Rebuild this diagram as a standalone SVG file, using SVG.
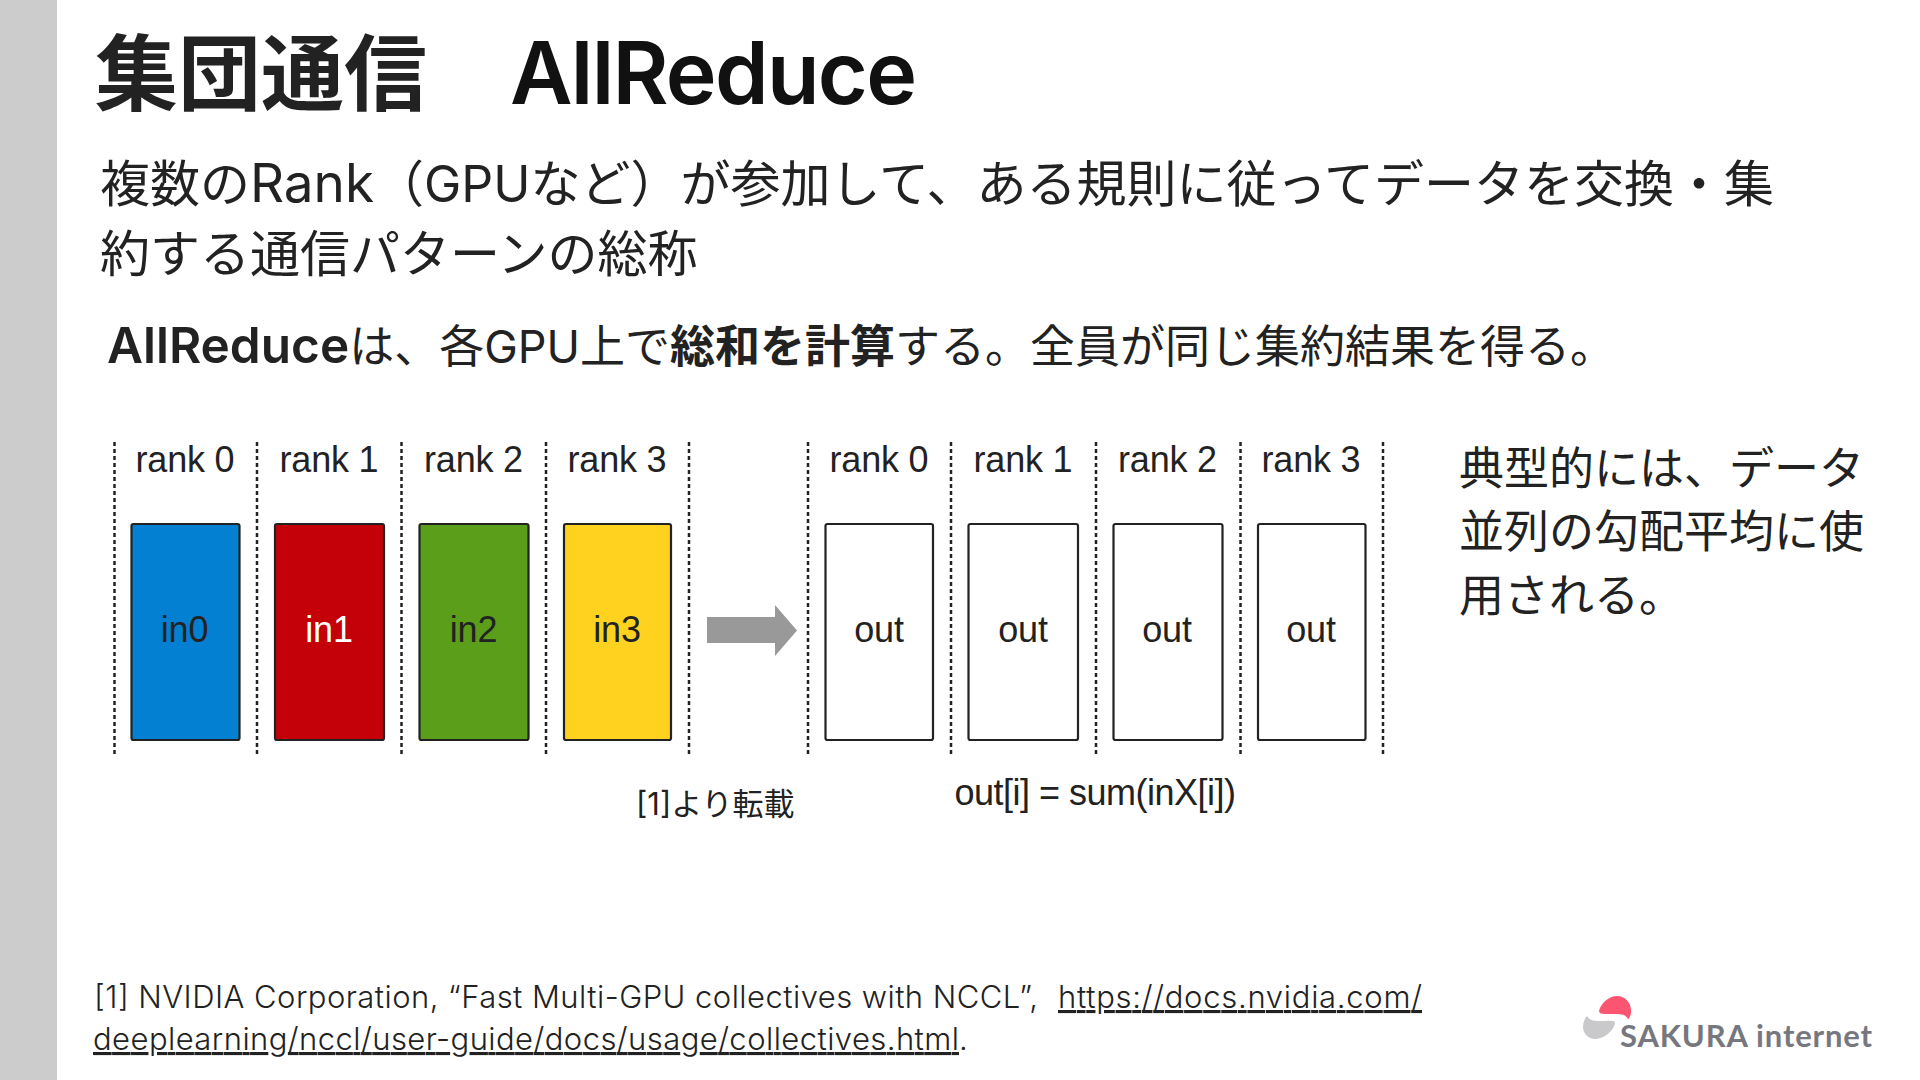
<svg xmlns="http://www.w3.org/2000/svg" width="1920" height="1080" viewBox="0 0 1920 1080">
<style>
text{font-family:"Inter","Noto Sans CJK JP","Noto Sans",sans-serif;fill:#222}
.d{font-family:"Liberation Sans",sans-serif;font-size:36px;fill:#222;text-anchor:middle;letter-spacing:-.2px}
.box{stroke:#222;stroke-width:2.200}
.dash{stroke:#222;stroke-width:2.500;stroke-dasharray:4 3;fill:none}
</style>
<rect width="1920" height="1080" fill="#fff"/>
<rect id="sidebar" width="57" height="1080" fill="#ccc"/>
<g id="title"><text x="95" y="104" font-size="83" font-weight="700" fill="#111">集団通信</text><text x="510" y="104" font-size="86" font-weight="600" letter-spacing="-1.700" style="fill:#111">AllReduce</text></g>
<g id="body">
<text x="100" y="202" font-size="50">複数の<tspan font-size="53">Rank</tspan>（GPUなど）が参加して、ある規則に従ってデータを交換・集</text>
<text x="100" y="272" font-size="50">約する通信パターンの総称</text>
<text x="107" y="363" font-size="45"><tspan font-weight="600" font-size="49.500">AllReduce</tspan>は、各GPU上で<tspan font-weight="700">総和を計算</tspan>する。全員が同じ集約結果を得る。</text>
<text x="1459" y="485" font-size="45">典型的には、データ</text>
<text x="1459" y="548" font-size="45">並列の勾配平均に使</text>
<text x="1459" y="612" font-size="45">用される。</text>
</g>
<g id="connectors">
<path class="dash" d="M114.500 442V755M257 442V755M401.500 442V755M546 442V755M689 442V755M808 442V755M951 442V755M1096 442V755M1240.500 442V755M1383 442V755"/>
<path d="M707 617H775V605L797 630.500L775 656V643H707Z" fill="#999"/>
</g>
<g id="r0"><text class="d" x="185" y="472">rank 0</text><rect class="box" x="131.500" y="524" width="108" height="216" rx="2" fill="#0480d2"/><text class="d" x="184.500" y="642">in0</text></g>
<g id="r1"><text class="d" x="329" y="472">rank 1</text><rect class="box" x="275" y="524" width="109" height="216" rx="2" fill="#c40008"/><text class="d" x="329" y="642" style="fill:#fff">in1</text></g>
<g id="r2"><text class="d" x="473.500" y="472">rank 2</text><rect class="box" x="419.500" y="524" width="109" height="216" rx="2" fill="#5a9e1a"/><text class="d" x="473.500" y="642">in2</text></g>
<g id="r3"><text class="d" x="617" y="472">rank 3</text><rect class="box" x="564" y="524" width="107" height="216" rx="2" fill="#ffd21f"/><text class="d" x="617" y="642">in3</text></g>
<g id="o0"><text class="d" x="879" y="472">rank 0</text><rect class="box" x="825.500" y="524" width="107.500" height="216" rx="2" fill="#fff"/><text class="d" x="879" y="642">out</text></g>
<g id="o1"><text class="d" x="1023" y="472">rank 1</text><rect class="box" x="968.500" y="524" width="109.500" height="216" rx="2" fill="#fff"/><text class="d" x="1023" y="642">out</text></g>
<g id="o2"><text class="d" x="1167.500" y="472">rank 2</text><rect class="box" x="1113.500" y="524" width="109" height="216" rx="2" fill="#fff"/><text class="d" x="1167" y="642">out</text></g>
<g id="o3"><text class="d" x="1311" y="472">rank 3</text><rect class="box" x="1258" y="524" width="107.500" height="216" rx="2" fill="#fff"/><text class="d" x="1311" y="642">out</text></g>
<g id="labels"><text x="636" y="815" font-size="31">[1]より転載</text><text class="d" x="1095" y="805" style="letter-spacing:-.5px">out[i] = sum(inX[i])</text></g>
<g id="footer">
<text x="94" y="1008" font-size="31" font-weight="300" textLength="944">[1] NVIDIA Corporation, “Fast Multi-GPU collectives with NCCL”,</text>
<text x="1058" y="1008" font-size="31" font-weight="300" text-decoration="underline" textLength="364">https://docs.nvidia.com/</text>
<text x="93" y="1050" font-size="31" font-weight="300" text-decoration="underline" textLength="866">deeplearning/nccl/user-guide/docs/usage/collectives.html</text>
<text x="959" y="1050" font-size="31" font-weight="300">.</text>
</g>
<g id="logo">
<path d="M1599 1011C1601 1003 1609 996 1617 996C1626 996 1632 1004 1631 1013C1630.500 1016 1629 1019 1628 1019C1626 1015 1622 1014 1616 1014C1608 1014 1599 1015 1599 1011Z" fill="#fb5571"/>
<path d="M1587 1016C1589 1020 1593 1021 1600 1021C1606 1021 1614 1020 1615 1022C1615 1030 1604 1039 1595 1039C1588 1039 1583 1033 1583 1027C1583 1022 1585 1018 1587 1016Z" fill="#c9c9cc"/>
<text x="1620" y="1047" font-size="31" font-weight="700" style="font-family:Lato,sans-serif;fill:#77777f" textLength="252">SAKURA internet</text>
</g>
</svg>
